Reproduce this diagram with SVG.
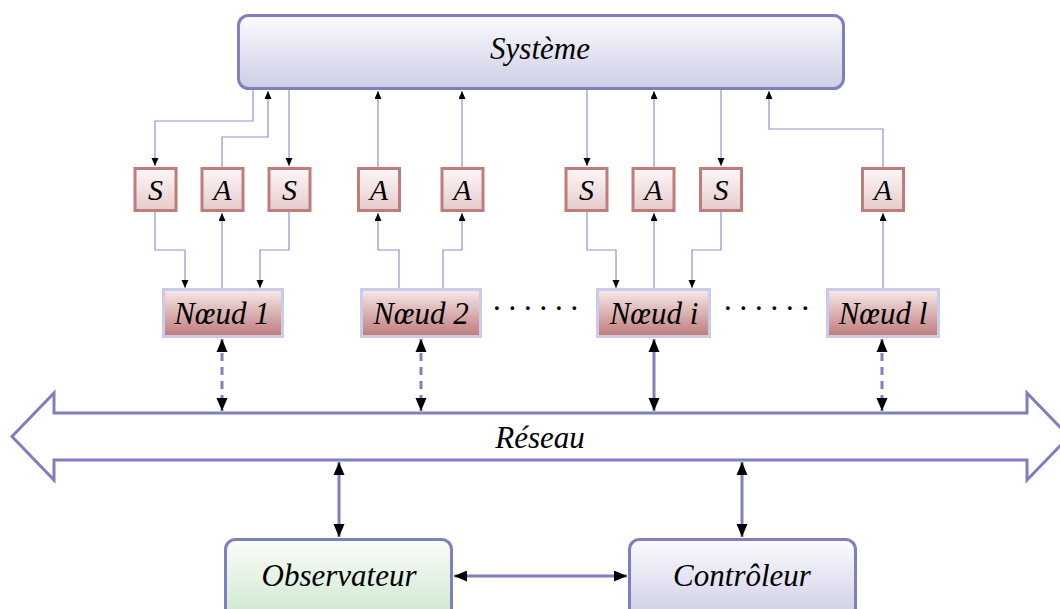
<svg xmlns="http://www.w3.org/2000/svg" width="1060" height="609" viewBox="0 0 1060 609">
<defs>
<linearGradient id="gSys" x1="0" y1="0" x2="0" y2="1"><stop offset="0" stop-color="#fbfbfe"/><stop offset="1" stop-color="#cdcde6"/></linearGradient>
<linearGradient id="gObs" x1="0" y1="0" x2="0" y2="1"><stop offset="0" stop-color="#fbfdfb"/><stop offset="1" stop-color="#cde6cd"/></linearGradient>
<linearGradient id="gSA" x1="0" y1="0" x2="0" y2="1"><stop offset="0" stop-color="#fdf8f8"/><stop offset="1" stop-color="#e6caca"/></linearGradient>
<linearGradient id="gNode" x1="0" y1="0" x2="0" y2="1"><stop offset="0" stop-color="#f7eaea"/><stop offset="1" stop-color="#bf7a7a"/></linearGradient>
<marker id="ms" markerUnits="userSpaceOnUse" markerWidth="9" markerHeight="8" refX="8" refY="3.5" orient="auto"><path d="M0,0 L8,3.5 L0,7 z" fill="#000"/></marker>
<marker id="mbE" markerUnits="userSpaceOnUse" markerWidth="14" markerHeight="12" refX="13" refY="5.5" orient="auto"><path d="M0,0 L13,5.5 L0,11 z" fill="#000"/></marker>
<marker id="mbS" markerUnits="userSpaceOnUse" markerWidth="14" markerHeight="12" refX="0" refY="5.5" orient="auto"><path d="M13,0 L0,5.5 L13,11 z" fill="#000"/></marker>
</defs>
<style>
.lbl{font-family:"Liberation Serif","Times New Roman",serif;font-style:italic;fill:#000;text-anchor:middle}
.big{font-size:31px}
.sa{font-size:30px}
.main{stroke:#7f7fbf;stroke-width:3}
.sabox{stroke:#c07c7c;stroke-width:3;fill:url(#gSA)}
.nodebox{stroke:#cacaea;stroke-width:3;fill:url(#gNode)}
.thin{fill:none;stroke:#8f8fd2;stroke-width:1.2;marker-end:url(#ms)}
.thick{fill:none;stroke:#7f7fbf;stroke-width:3;marker-start:url(#mbS);marker-end:url(#mbE)}
.dash{stroke-dasharray:8 6}
</style>

<g id="systeme">
<rect class="main" x="238.5" y="15.5" width="605" height="73" rx="10" fill="url(#gSys)"/>
<text class="lbl big" x="540" y="59">Système</text>
</g>

<g id="reseau">
<polygon class="main" fill="#fff" points="12,436.5 54,393 54,413 1027,413 1027,393 1069,436.5 1027,480 1027,460 54,460 54,480"/>
<text class="lbl big" x="540" y="448">Réseau</text>
</g>

<g id="s1"><rect class="sabox" x="135" y="168.5" width="41" height="42"/><text class="lbl sa" x="155.5" y="200">S</text></g>
<g id="a1"><rect class="sabox" x="202" y="168.5" width="41" height="42"/><text class="lbl sa" x="222.5" y="200">A</text></g>
<g id="s2"><rect class="sabox" x="269" y="168.5" width="41" height="42"/><text class="lbl sa" x="289.5" y="200">S</text></g>
<g id="a2a"><rect class="sabox" x="358.5" y="168.5" width="41" height="42"/><text class="lbl sa" x="379" y="200">A</text></g>
<g id="a2b"><rect class="sabox" x="442" y="168.5" width="41" height="42"/><text class="lbl sa" x="462.5" y="200">A</text></g>
<g id="s3"><rect class="sabox" x="566" y="168.5" width="41" height="42"/><text class="lbl sa" x="586.5" y="200">S</text></g>
<g id="a3"><rect class="sabox" x="633" y="168.5" width="41" height="42"/><text class="lbl sa" x="653.5" y="200">A</text></g>
<g id="s4"><rect class="sabox" x="700.5" y="168.5" width="41" height="42"/><text class="lbl sa" x="721" y="200">S</text></g>
<g id="a4"><rect class="sabox" x="862.5" y="168.5" width="41" height="42"/><text class="lbl sa" x="883" y="200">A</text></g>

<g id="n1"><rect class="nodebox" x="163.5" y="289.5" width="119" height="47"/><text class="lbl big" x="222" y="324">Nœud 1</text></g>
<g id="n2"><rect class="nodebox" x="361.5" y="289.5" width="119" height="47"/><text class="lbl big" x="421" y="324">Nœud 2</text></g>
<g id="ni"><rect class="nodebox" x="597.5" y="289.5" width="112" height="47"/><text class="lbl big" x="654" y="324">Nœud i</text></g>
<g id="nl"><rect class="nodebox" x="827.5" y="289.5" width="111" height="47"/><text class="lbl big" x="883" y="324">Nœud l</text></g>

<g id="dots">
<text class="lbl big" x="535" y="319">· · · · · ·</text>
<text class="lbl big" x="766" y="319">· · · · · ·</text>
</g>

<g id="observateur">
<rect class="main" x="225.5" y="539.5" width="226" height="80" rx="10" fill="url(#gObs)"/>
<text class="lbl big" x="339" y="586">Observateur</text>
</g>
<g id="controleur">
<rect class="main" x="629.5" y="539.5" width="226" height="80" rx="10" fill="url(#gSys)"/>
<text class="lbl big" x="742" y="586">Contrôleur</text>
</g>

<g id="connectors">
<path class="thin" d="M253,90 V121 H155 V166"/>
<path class="thin" d="M222,167 V137 H268 V91"/>
<path class="thin" d="M289,90 V166"/>
<path class="thin" d="M378,167 V91"/>
<path class="thin" d="M462,167 V91"/>
<path class="thin" d="M587,90 V166"/>
<path class="thin" d="M654,167 V91"/>
<path class="thin" d="M721,90 V166"/>
<path class="thin" d="M883,167 V129 H769 V91"/>
<path class="thin" d="M155,212 V250 H185 V288"/>
<path class="thin" d="M222,288 V213"/>
<path class="thin" d="M289,212 V250 H260 V288"/>
<path class="thin" d="M399,288 V250 H378 V213"/>
<path class="thin" d="M443,288 V250 H462 V213"/>
<path class="thin" d="M587,212 V250 H616 V288"/>
<path class="thin" d="M654,288 V213"/>
<path class="thin" d="M721,212 V250 H692 V288"/>
<path class="thin" d="M883,288 V213"/>
<path class="thick dash" d="M222,339 V411"/>
<path class="thick dash" d="M421,339 V411"/>
<path class="thick" d="M654,339 V411"/>
<path class="thick dash" d="M882,339 V411"/>
<path class="thick" d="M339,462 V537"/>
<path class="thick" d="M742,462 V537"/>
<path class="thick" d="M454,576 H627"/>
</g>
</svg>
